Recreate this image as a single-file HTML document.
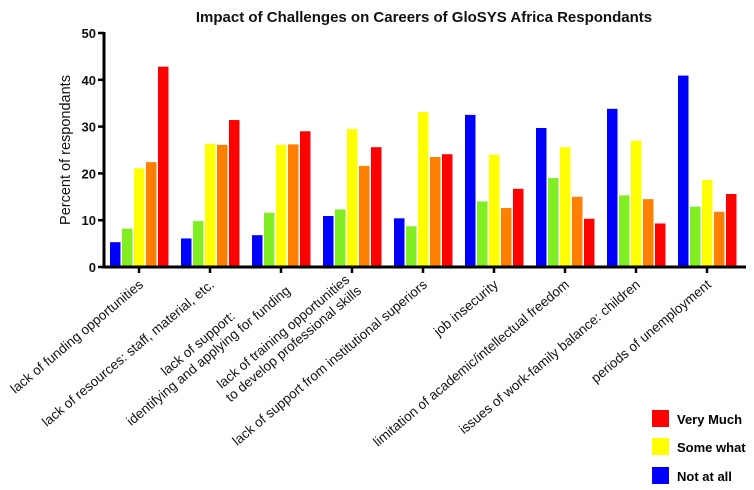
<!DOCTYPE html>
<html><head><meta charset="utf-8"><style>
body{margin:0;background:#fff;}
svg{display:block;font-family:"Liberation Sans",Arial,sans-serif;}
</style></head><body>
<svg id="chart" width="754" height="490" viewBox="0 0 754 490">
<text x="424" y="22" text-anchor="middle" font-size="15" font-weight="bold" fill="#111">Impact of Challenges on Careers of GloSYS Africa Respondants</text>
<text transform="translate(70,150) rotate(-90)" text-anchor="middle" font-size="14.5" fill="#111">Percent of respondants</text>
<g id="bars"></g><g id="axes"></g><g id="labels"></g>
<g>
<rect x="652" y="410" width="17" height="17" fill="#ff0000"/>
<text x="677" y="424" font-size="13" font-weight="bold">Very Much</text>
<rect x="652" y="438" width="17" height="17" fill="#ffff00"/>
<text x="677" y="452" font-size="13" font-weight="bold">Some what</text>
<rect x="652" y="467" width="17" height="17" fill="#0000ff"/>
<text x="677" y="481" font-size="13" font-weight="bold">Not at all</text>
</g>
</svg>
<script>
const categories = [
 ["lack of funding opportunities"],
 ["lack of resources: staff, material, etc."],
 ["lack of support:","identifying and applying for funding"],
 ["lack of training opportunities","to develop professional skills"],
 ["lack of support from institutional superiors"],
 ["job insecurity"],
 ["limitation of academic/intellectual freedom"],
 ["issues of work-family balance: children"],
 ["periods of unemployment"]
];
const notAtAll = [5.3, 6.1, 6.8, 10.9, 10.4, 32.5, 29.7, 33.8, 40.9];
const level2   = [8.2, 9.8, 11.6, 12.3, 8.7, 14.0, 19.0, 15.3, 12.9];
const someWhat = [21.1, 26.3, 26.1, 29.5, 33.1, 24.0, 25.6, 27.0, 18.6];
const level4   = [22.4, 26.1, 26.2, 21.6, 23.5, 12.6, 15.0, 14.5, 11.8];
const veryMuch = [42.8, 31.4, 29.0, 25.6, 24.1, 16.7, 10.3, 9.3, 15.6];
const yTicks = [0, 10, 20, 30, 40, 50];

const NS="http://www.w3.org/2000/svg";
const y0=267, y50=33;
const yScale=v=>y0-(v/50)*(y0-y50);
const groupX=i=>110+i*71;
const series=[[notAtAll,"#0000ff","not-at-all"],[level2,"#80ee22","level-2"],[someWhat,"#ffff00","some-what"],[level4,"#ff8000","level-4"],[veryMuch,"#ff0000","very-much"]];
function mk(tag,attrs,parent){const e=document.createElementNS(NS,tag);for(const k in attrs)e.setAttribute(k,attrs[k]);parent.appendChild(e);return e;}
const bars=document.getElementById('bars'),axes=document.getElementById('axes'),labels=document.getElementById('labels');
categories.forEach((c,i)=>{
  series.forEach((s,j)=>{
    const v=s[0][i];
    const r=mk('rect',{x:groupX(i)+j*12,y:yScale(v),width:10.5,height:y0-yScale(v),fill:s[1]},bars);
    
    
  });
  const tx=groupX(i)+29;
  const t=mk('line',{x1:tx,x2:tx,y1:y0,y2:y0+6,stroke:'#000','stroke-width':2.5},axes);
  
  
  const ax=tx+5, ay=y0+19;
  const lab=mk('text',{transform:`translate(${ax},${ay}) rotate(-40)`,'font-size':'13.5',fill:'#111'},labels);
  
  
  const spans=c.map((line,k)=>{const ts=mk('tspan',{x:0,y:(k-(c.length-1))*16+(c.length>1?8:0)},lab);ts.textContent=line;return ts;});
  const ws=spans.map(s=>s.getComputedTextLength());
  const maxW=Math.max(...ws);
  spans.forEach((s,k)=>s.setAttribute('x',-maxW+(maxW-ws[k])/2));
});
const ya=mk('line',{x1:104,x2:104,y1:y50-1,y2:y0+1.5,stroke:'#000','stroke-width':3},axes);


const xa=mk('line',{x1:102.5,x2:746,y1:y0,y2:y0,stroke:'#000','stroke-width':3},axes);


yTicks.forEach(v=>{
  const l=mk('line',{x1:98,x2:104,y1:yScale(v),y2:yScale(v),stroke:'#000','stroke-width':2.5},axes);
  
  
  const t=mk('text',{x:96,y:yScale(v)+5,'text-anchor':'end','font-size':'13','font-weight':'bold',fill:'#111'},axes);
  t.textContent=v;
  
  
});
</script>
</body></html>
